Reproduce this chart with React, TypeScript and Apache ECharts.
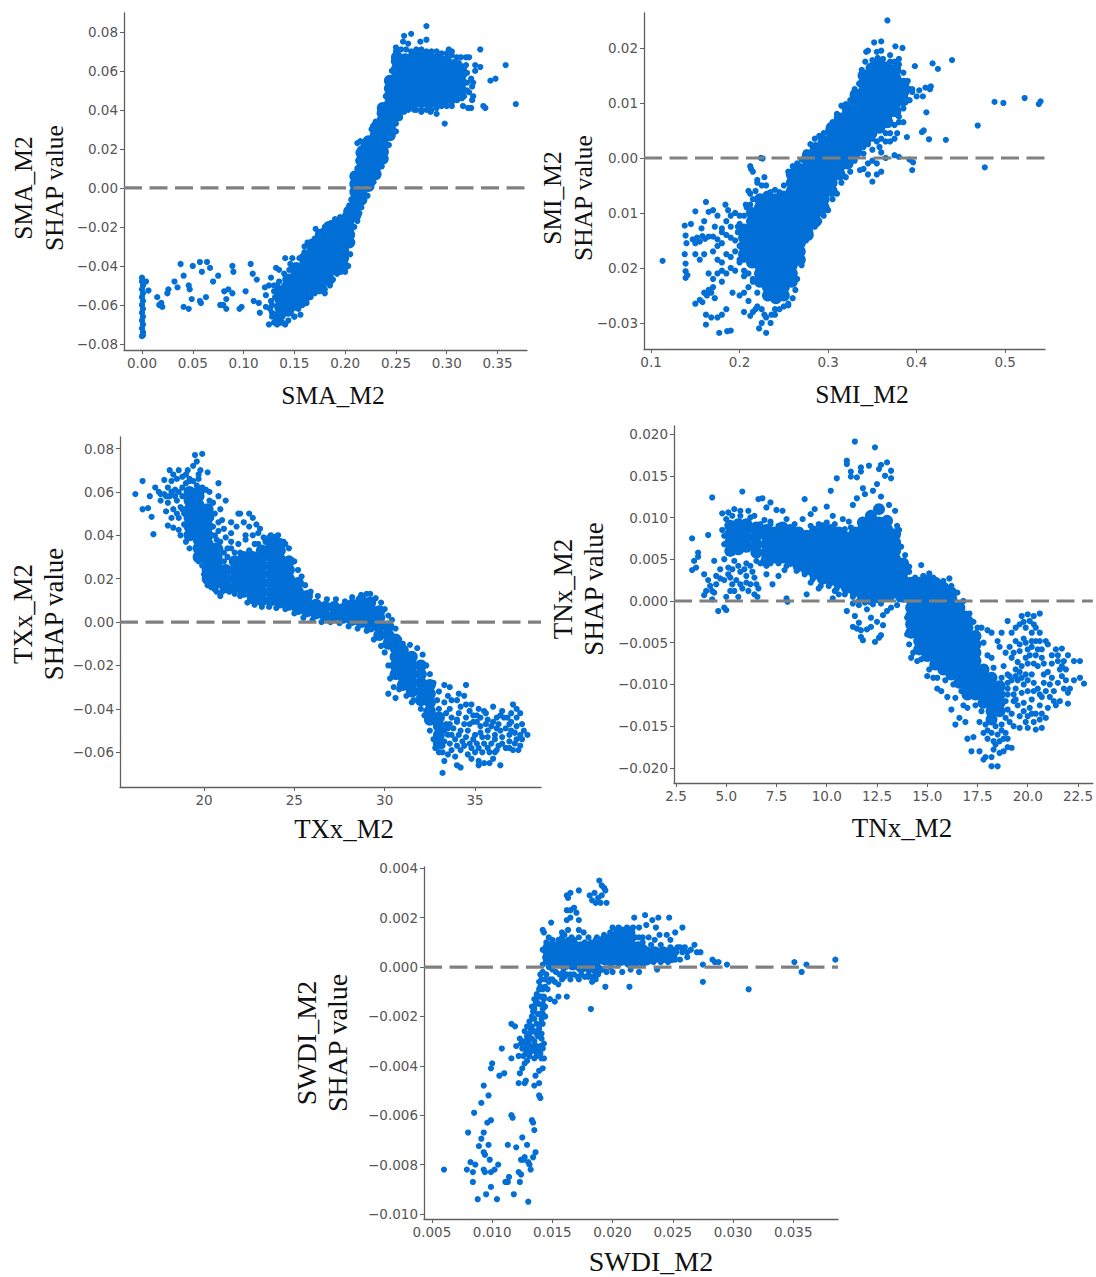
import React, { useEffect, useRef } from "react";
import * as echarts from "echarts";

type Row = [number, number[]];
type Pt = [number, number];

// ---------- SMA_M2 ----------
const smaXTicks = [0, 0.05, 0.1, 0.15, 0.2, 0.25, 0.3, 0.35];
const smaYTicks = [-0.08, -0.06, -0.04, -0.02, 0, 0.02, 0.04, 0.06, 0.08];
const smaDense: Row[] = [
  [0.136, [-0.065, -0.061, -0.057, -0.053]],
  [0.144, [-0.063, -0.059, -0.055, -0.051, -0.047]],
  [0.152, [-0.06, -0.056, -0.052, -0.048, -0.044, -0.041]],
  [0.16, [-0.056, -0.052, -0.048, -0.044, -0.04, -0.036]],
  [0.168, [-0.052, -0.048, -0.044, -0.04, -0.036, -0.032, -0.029]],
  [0.176, [-0.05, -0.046, -0.042, -0.038, -0.034, -0.03, -0.026, -0.024]],
  [0.184, [-0.047, -0.043, -0.039, -0.035, -0.031, -0.027, -0.023, -0.02]],
  [0.192, [-0.041, -0.037, -0.033, -0.029, -0.025, -0.021, -0.018]],
  [0.198, [-0.04, -0.036, -0.032, -0.028, -0.024, -0.02, -0.017]],
  [0.204, [-0.028, -0.024, -0.02, -0.016, -0.012]],
  [0.21, [-0.014, -0.01, -0.006, -0.002, 0.002, 0.006]],
  [0.216, [-0.006, -0.002, 0.002, 0.006, 0.01, 0.014, 0.018]],
  [0.223, [0.001, 0.005, 0.009, 0.013, 0.017, 0.021, 0.024]],
  [0.23, [0.007, 0.011, 0.015, 0.019, 0.023, 0.027, 0.031]],
  [0.237, [0.015, 0.019, 0.023, 0.027, 0.031, 0.035, 0.039, 0.041]],
  [0.244, [0.027, 0.031, 0.035, 0.039, 0.043, 0.047, 0.051, 0.055]],
  [0.251, [0.037, 0.041, 0.045, 0.049, 0.053, 0.057, 0.061, 0.065, 0.067]],
  [0.259, [0.042, 0.046, 0.05, 0.054, 0.058, 0.062, 0.066]],
  [0.267, [0.044, 0.048, 0.052, 0.056, 0.06, 0.064, 0.067]],
  [0.275, [0.044, 0.048, 0.052, 0.056, 0.06, 0.064, 0.067]],
  [0.283, [0.044, 0.048, 0.052, 0.056, 0.06, 0.064, 0.067]],
  [0.291, [0.044, 0.048, 0.052, 0.056, 0.06, 0.064, 0.066]],
  [0.299, [0.046, 0.05, 0.054, 0.058, 0.062, 0.065]],
  [0.307, [0.048, 0.052, 0.056, 0.06, 0.063]],
  [0.314, [0.05, 0.054, 0.058, 0.061]],
];
const smaSparse: Pt[] = [
  [0, -0.046], [0, -0.048], [0.001, -0.05], [0, -0.052], [0.001, -0.054], [0, -0.056], [0.001, -0.058], [0, -0.06], [0.001, -0.062], [0, -0.064],
  [0.001, -0.066], [0, -0.068], [0.001, -0.07], [0, -0.072], [0.001, -0.074], [0, -0.076], [0.001, -0.0755],
  [0.0064, -0.0526], [0.004, -0.048], [0.015, -0.056], [0.019, -0.059], [0.02, -0.061], [0.017, -0.06], [0.026, -0.052], [0.025, -0.054],
  [0.032, -0.048], [0.035, -0.051], [0.038, -0.039], [0.041, -0.045], [0.041, -0.061], [0.046, -0.062], [0.046, -0.05], [0.047, -0.052],
  [0.05, -0.04], [0.049, -0.057], [0.057, -0.038], [0.059, -0.043], [0.057, -0.058], [0.058, -0.059], [0.063, -0.056], [0.064, -0.038],
  [0.067, -0.041], [0.07, -0.048], [0.075, -0.045], [0.077, -0.06], [0.08, -0.06], [0.083, -0.057], [0.083, -0.062], [0.081, -0.053],
  [0.085, -0.052], [0.089, -0.054], [0.089, -0.04], [0.09, -0.043], [0.096, -0.062], [0.098, -0.061], [0.102, -0.053], [0.107, -0.039],
  [0.109, -0.044], [0.11, -0.058], [0.113, -0.047], [0.116, -0.064], [0.115, -0.059], [0.121, -0.051], [0.122, -0.055], [0.122, -0.061],
  [0.125, -0.07], [0.128, -0.066], [0.125, -0.05], [0.127, -0.046], [0.132, -0.041], [0.135, -0.042], [0.141, -0.036], [0.148, -0.036],
  [0.146, -0.039], [0.16, -0.03], [0.163, -0.028], [0.171, -0.021], [0.18, -0.02], [0.141, -0.07], [0.136, -0.069], [0.156, -0.065],
  [0.13, -0.069], [0.133, -0.07], [0.15, -0.066], [0.18, -0.054], [0.172, -0.053], [0.16, -0.059], [0.127, -0.058], [0.13, -0.053], [0.126, -0.062],
  [0.28, 0.083], [0.258, 0.078], [0.265, 0.079], [0.28, 0.076], [0.274, 0.075], [0.25, 0.072], [0.262, 0.074], [0.257, 0.075], [0.27, 0.071],
  [0.333, 0.071], [0.358, 0.063], [0.348, 0.056], [0.343, 0.055], [0.368, 0.043], [0.336, 0.042], [0.338, 0.041], [0.328, 0.063], [0.328, 0.06],
  [0.333, 0.062], [0.322, 0.067], [0.319, 0.067], [0.302, 0.071], [0.305, 0.07], [0.314, 0.067], [0.298, 0.033], [0.29, 0.038], [0.284, 0.039],
  [0.275, 0.039], [0.268, 0.04], [0.305, 0.042], [0.31, 0.045], [0.324, 0.041], [0.321, 0.041], [0.316, 0.042], [0.326, 0.047], [0.326, 0.054],
  [0.322, 0.049], [0.325, 0.052], [0.32, 0.059], [0.324, 0.056], [0.319, 0.063], [0.317, 0.047], [0.325, 0.045], [0.25, 0.029], [0.212, 0.023], [0.215, 0.024],
  [0.245, 0.028], [0.238, 0.022],
  [0.128, -0.064], [0.132, -0.068], [0.138, -0.069], [0.144, -0.068], [0.15, -0.066], [0.154, -0.062], [0.158, -0.06], [0.162, -0.059], [0.166, -0.056],
  [0.17, -0.054], [0.175, -0.053], [0.18, -0.052], [0.185, -0.05], [0.188, -0.047], [0.192, -0.044], [0.196, -0.043], [0.2, -0.043], [0.203, -0.04],
  [0.205, -0.034], [0.207, -0.028], [0.209, -0.02], [0.212, -0.017], [0.214, -0.013], [0.216, -0.01], [0.13, -0.05], [0.135, -0.048], [0.14, -0.044],
  [0.145, -0.042], [0.15, -0.04], [0.155, -0.036], [0.16, -0.033], [0.165, -0.029], [0.17, -0.026], [0.174, -0.023], [0.178, -0.022], [0.182, -0.02],
  [0.186, -0.018], [0.19, -0.016], [0.195, -0.015], [0.2, -0.014], [0.204, -0.009], [0.206, -0.006], [0.208, -0.002], [0.21, 0.004], [0.212, 0.01],
  [0.213, 0.014], [0.215, 0.02], [0.218, 0.022], [0.222, 0.024], [0.226, 0.03], [0.23, 0.034], [0.234, 0.038], [0.238, 0.04], [0.24, 0.047], [0.243, 0.055],
  [0.246, 0.06], [0.248, 0.065], [0.25, 0.07], [0.255, 0.071], [0.26, 0.071], [0.265, 0.07], [0.27, 0.07], [0.275, 0.071], [0.28, 0.07], [0.285, 0.07],
  [0.29, 0.07], [0.295, 0.069], [0.3, 0.069], [0.305, 0.068], [0.31, 0.067], [0.222, -0.004], [0.225, 0], [0.228, 0.003], [0.232, 0.007], [0.236, 0.011],
  [0.24, 0.018], [0.243, 0.022], [0.246, 0.028], [0.25, 0.033], [0.254, 0.036], [0.258, 0.039], [0.262, 0.04], [0.266, 0.041], [0.27, 0.04], [0.275, 0.04],
  [0.28, 0.04], [0.285, 0.04], [0.29, 0.041], [0.295, 0.042], [0.3, 0.042], [0.305, 0.044], [0.31, 0.045], [0.315, 0.046], [0.32, 0.05], [0.32, 0.054],
  [0.316, 0.062], [0.312, 0.064], [0.128, -0.06], [0.131, -0.056], [0.133, -0.05], [0.14, -0.05], [0.14, -0.064],
];

// ---------- SMI_M2 ----------
const smiXTicks = [0.1, 0.2, 0.3, 0.4, 0.5];
const smiYTicks = [-0.03, -0.02, -0.01, 0, 0.01, 0.02];
const smiYLabels = ["\u22120.03", "0.02", "0.01", "0.00", "0.01", "0.02"];
const smiDense: Row[] = [
  [0.205, [-0.0175, -0.016, -0.0145, -0.013]],
  [0.214, [-0.019, -0.0175, -0.016, -0.0145, -0.013, -0.0115, -0.01]],
  [0.223, [-0.0225, -0.021, -0.0195, -0.018, -0.0165, -0.015, -0.0135, -0.012, -0.0105, -0.009, -0.0075]],
  [0.232, [-0.025, -0.0235, -0.022, -0.0205, -0.019, -0.0175, -0.016, -0.0145, -0.013, -0.0115, -0.01, -0.0085, -0.007]],
  [0.241, [-0.0255, -0.024, -0.0225, -0.021, -0.0195, -0.018, -0.0165, -0.015, -0.0135, -0.012, -0.0105, -0.009, -0.0075]],
  [0.25, [-0.025, -0.0235, -0.022, -0.0205, -0.019, -0.0175, -0.016, -0.0145, -0.013, -0.0115, -0.01, -0.0085, -0.007]],
  [0.259, [-0.0225, -0.021, -0.0195, -0.018, -0.0165, -0.015, -0.0135, -0.012, -0.0105, -0.009, -0.0075, -0.006, -0.0045, -0.003]],
  [0.268, [-0.0185, -0.017, -0.0155, -0.014, -0.0125, -0.011, -0.0095, -0.008, -0.0065, -0.005, -0.0035, -0.002]],
  [0.277, [-0.014, -0.0125, -0.011, -0.0095, -0.008, -0.0065, -0.005, -0.0035, -0.002, -0.0005, 0.0005]],
  [0.286, [-0.0115, -0.01, -0.0085, -0.007, -0.0055, -0.004, -0.0025, -0.001, 0.0005, 0.0018]],
  [0.295, [-0.009, -0.0075, -0.006, -0.0045, -0.003, -0.0015, 0, 0.0015, 0.003]],
  [0.304, [-0.006, -0.0045, -0.003, -0.0015, 0, 0.0015, 0.003, 0.0045, 0.0055]],
  [0.313, [-0.003, -0.0015, 0, 0.0015, 0.003, 0.0045, 0.006, 0.0072]],
  [0.322, [-0.001, 0.0005, 0.002, 0.0035, 0.005, 0.0065, 0.008, 0.009]],
  [0.331, [0.001, 0.0025, 0.004, 0.0055, 0.007, 0.0085, 0.0105, 0.0115]],
  [0.34, [0.003, 0.0045, 0.006, 0.0075, 0.009, 0.0105, 0.012, 0.0135, 0.015]],
  [0.349, [0.0045, 0.006, 0.0075, 0.009, 0.0105, 0.012, 0.0135, 0.015, 0.0163]],
  [0.358, [0.0055, 0.007, 0.0085, 0.01, 0.0115, 0.013, 0.0145, 0.016, 0.0172]],
  [0.367, [0.0065, 0.008, 0.0095, 0.011, 0.0125, 0.014, 0.0155, 0.0165]],
  [0.376, [0.0085, 0.01, 0.0115, 0.013, 0.0145, 0.016]],
  [0.385, [0.0105, 0.012, 0.0135]],
];
const smiSparse: Pt[] = [
  [0.113, -0.0187], [0.138, -0.0123], [0.138, -0.0175], [0.139, -0.0141], [0.14, -0.0155], [0.139, -0.0192], [0.139, -0.0206], [0.139, -0.0218],
  [0.141, -0.0213], [0.15, -0.0097], [0.145, -0.012], [0.147, -0.0148], [0.15, -0.0155], [0.152, -0.0145], [0.155, -0.0152], [0.158, -0.0142],
  [0.161, -0.0147], [0.165, -0.0143], [0.17, -0.0143], [0.175, -0.0148], [0.18, -0.0135], [0.162, -0.008], [0.165, -0.0098], [0.17, -0.0095],
  [0.175, -0.0105], [0.16, -0.0115], [0.157, -0.0128], [0.172, -0.0125], [0.184, -0.0085], [0.187, -0.0095], [0.185, -0.0115], [0.19, -0.0105],
  [0.195, -0.01], [0.2, -0.0105], [0.18, -0.0128], [0.19, -0.0125], [0.198, -0.0125], [0.15, -0.0175], [0.155, -0.0185], [0.16, -0.0175],
  [0.17, -0.017], [0.175, -0.0185], [0.18, -0.019], [0.185, -0.0175], [0.19, -0.018], [0.195, -0.017], [0.2, -0.019], [0.205, -0.0185],
  [0.175, -0.021], [0.18, -0.0205], [0.185, -0.021], [0.19, -0.02], [0.195, -0.0205], [0.165, -0.021], [0.17, -0.022], [0.18, -0.0225],
  [0.165, -0.024], [0.17, -0.0235], [0.15, -0.0265], [0.155, -0.0258], [0.158, -0.0262], [0.16, -0.0245], [0.163, -0.025], [0.168, -0.0245],
  [0.172, -0.0255], [0.162, -0.0285], [0.162, -0.0303], [0.168, -0.029], [0.175, -0.029], [0.18, -0.0285], [0.185, -0.0275], [0.192, -0.0245],
  [0.2, -0.025], [0.205, -0.0245], [0.21, -0.026], [0.205, -0.028], [0.215, -0.028], [0.22, -0.027], [0.225, -0.03], [0.23, -0.0318],
  [0.222, -0.031], [0.177, -0.0318], [0.186, -0.0315], [0.19, -0.0314], [0.212, -0.0287], [0.218, -0.0275], [0.228, -0.0285], [0.236, -0.0285],
  [0.24, -0.0275], [0.255, -0.0268], [0.21, -0.0235], [0.215, -0.022], [0.205, -0.0215], [0.212, -0.0065], [0.213, -0.002], [0.212, -0.0015],
  [0.215, -0.0025], [0.224, 0], [0.226, -0.0001], [0.22, -0.0045], [0.228, -0.0035], [0.225, -0.005], [0.21, -0.006], [0.207, -0.0085],
  [0.367, 0.025], [0.36, 0.0212], [0.352, 0.021], [0.345, 0.0195], [0.343, 0.0193], [0.355, 0.0193], [0.36, 0.0195], [0.376, 0.0203], [0.384, 0.02],
  [0.37, 0.0187], [0.38, 0.018], [0.398, 0.0167], [0.418, 0.0172], [0.424, 0.0162], [0.44, 0.0178], [0.403, 0.0123], [0.41, 0.0128], [0.415, 0.0125],
  [0.416, 0.013], [0.4, 0.0112], [0.407, 0.0112], [0.392, 0.0125], [0.395, 0.012], [0.411, 0.0083], [0.408, 0.005], [0.406, 0.0047], [0.414, 0.0034],
  [0.389, 0.0038], [0.433, 0.0033], [0.469, 0.0059], [0.488, 0.0102], [0.498, 0.01], [0.522, 0.0109], [0.538, 0.0098], [0.54, 0.0103], [0.477, -0.0017],
  [0.395, -0.0022], [0.392, -0.0003], [0.396, -0.0008], [0.38, 0.0002], [0.375, 0.0005], [0.38, 0.0065], [0.385, 0.0065], [0.378, 0.0045], [0.37, 0.003],
  [0.375, 0.0035], [0.35, -0.0043], [0.345, -0.003], [0.355, -0.003], [0.36, -0.0025], [0.34, -0.002], [0.336, -0.0022], [0.345, -0.001], [0.35, -0.0005],
  [0.355, -0.001], [0.36, 0.001], [0.365, 0], [0.34, 0.0008], [0.35, 0.0015], [0.358, 0.002], [0.345, 0.0025], [0.365, 0.003], [0.33, 0], [0.335, 0.001],
  [0.2, -0.012], [0.198, -0.0135], [0.2, -0.016], [0.205, -0.0105], [0.208, -0.009], [0.212, -0.0085], [0.215, -0.0075], [0.218, -0.006], [0.22, -0.004],
  [0.23, -0.005], [0.235, -0.0062], [0.24, -0.0058], [0.245, -0.0062], [0.25, -0.005], [0.255, -0.0025], [0.26, -0.0015], [0.265, -0.001], [0.27, -0.0003],
  [0.275, 0.001], [0.28, 0.0025], [0.285, 0.0035], [0.29, 0.004], [0.295, 0.0045], [0.3, 0.005], [0.305, 0.0065], [0.31, 0.008], [0.315, 0.0095],
  [0.32, 0.0098], [0.325, 0.0105], [0.33, 0.0125], [0.335, 0.0135], [0.338, 0.016], [0.342, 0.0175], [0.35, 0.0178], [0.356, 0.0182], [0.362, 0.018],
  [0.37, 0.0175], [0.375, 0.0175], [0.38, 0.017], [0.385, 0.0155], [0.39, 0.014], [0.395, 0.0125], [0.392, 0.0105], [0.385, 0.009], [0.38, 0.0075],
  [0.375, 0.006], [0.37, 0.0045], [0.365, 0.0045], [0.36, 0.0035], [0.355, 0.003], [0.35, 0.0035], [0.345, 0.003], [0.34, 0.002], [0.335, 0.0015],
  [0.33, -0.0005], [0.325, -0.0025], [0.32, -0.0035], [0.315, -0.0045], [0.31, -0.0065], [0.305, -0.0075], [0.3, -0.0095], [0.295, -0.0105], [0.29, -0.0115],
  [0.285, -0.0125], [0.28, -0.0135], [0.275, -0.015], [0.27, -0.0195], [0.265, -0.022], [0.263, -0.024], [0.26, -0.0255], [0.255, -0.0265], [0.25, -0.027],
  [0.245, -0.0275], [0.24, -0.0285], [0.235, -0.03], [0.23, -0.029], [0.225, -0.0275], [0.22, -0.0245], [0.215, -0.0225], [0.21, -0.021], [0.205, -0.0205],
  [0.2, -0.0185], [0.195, -0.015], [0.19, -0.0145], [0.185, -0.014], [0.18, -0.0155], [0.175, -0.016],
];

// ---------- TXx_M2 ----------
const txxXTicks = [20, 25, 30, 35];
const txxYTicks = [-0.06, -0.04, -0.02, 0, 0.02, 0.04, 0.06, 0.08];
const txxDense: Row[] = [
  [19.2, [0.04, 0.044, 0.048, 0.052, 0.056, 0.06]],
  [19.7, [0.03, 0.034, 0.038, 0.042, 0.046, 0.05, 0.054, 0.058, 0.06]],
  [20.2, [0.02, 0.024, 0.028, 0.032, 0.036, 0.04, 0.044, 0.048, 0.052]],
  [20.7, [0.018, 0.022, 0.026, 0.03, 0.034]],
  [21.2, [0.016, 0.02, 0.024]],
  [21.7, [0.016, 0.02, 0.024, 0.028]],
  [22.2, [0.014, 0.018, 0.022, 0.026, 0.03]],
  [22.7, [0.011, 0.015, 0.019, 0.023, 0.027, 0.03]],
  [23.2, [0.01, 0.014, 0.018, 0.022, 0.026, 0.03, 0.033]],
  [23.7, [0.01, 0.014, 0.018, 0.022, 0.026, 0.03, 0.034, 0.037]],
  [24.2, [0.009, 0.013, 0.017, 0.021, 0.025, 0.029, 0.033, 0.036]],
  [24.7, [0.008, 0.012, 0.016, 0.02, 0.024, 0.028]],
  [25.2, [0.006, 0.01, 0.014, 0.018]],
  [25.7, [0.005, 0.009, 0.012]],
  [26.2, [0.004, 0.008]],
  [26.7, [0.003, 0.007]],
  [27.2, [0.003, 0.007]],
  [27.7, [0.002, 0.006]],
  [28.2, [0.001, 0.005, 0.008]],
  [28.7, [0, 0.004, 0.008, 0.01]],
  [29.2, [-0.002, 0.002, 0.006, 0.009]],
  [29.7, [-0.006, -0.002, 0.002, 0.005]],
  [30.2, [-0.01, -0.006, -0.002]],
  [30.6, [-0.024, -0.02, -0.016, -0.012, -0.008]],
  [31, [-0.029, -0.025, -0.021, -0.017, -0.013]],
  [31.5, [-0.032, -0.028, -0.024, -0.02, -0.016]],
  [32, [-0.036, -0.032, -0.028, -0.024, -0.02]],
  [32.5, [-0.045, -0.041, -0.037, -0.033, -0.029]],
  [33, [-0.056, -0.052, -0.048, -0.044]],
];
const txxSparse: Pt[] = [
  [16.2, 0.059], [16.6, 0.052], [16.9, 0.0525], [16.6, 0.065], [17, 0.058], [17.3, 0.062], [17.6, 0.059], [17.2, 0.0405], [17.1, 0.0485],
  [17.8, 0.0655], [18.1, 0.07], [18.2, 0.065], [18.4, 0.061], [18, 0.055], [18.3, 0.052], [18, 0.0445], [18.3, 0.0435], [18.6, 0.0425],
  [17.8, 0.059], [18.1, 0.058], [18.5, 0.056], [18.8, 0.058], [18.8, 0.067], [19.1, 0.07], [19.4, 0.072], [19.5, 0.077], [19.9, 0.0775],
  [19.6, 0.074], [19.8, 0.07], [19.7, 0.068], [20.2, 0.069], [19.2, 0.065], [18.8, 0.052], [18.6, 0.048], [18.9, 0.045], [18.7, 0.04],
  [19, 0.037], [19.2, 0.034], [19.7, 0.066], [20.3, 0.06], [20.8, 0.064], [20.8, 0.058], [21.2, 0.056], [20.9, 0.052], [21, 0.047],
  [20.8, 0.042], [20.6, 0.04], [20.9, 0.037], [21.5, 0.046], [21.9, 0.05], [22, 0.05], [22.5, 0.05], [22.7, 0.048], [21.8, 0.044],
  [22.2, 0.046], [22.5, 0.044], [22.9, 0.045], [23.1, 0.043], [21.5, 0.041], [22.3, 0.04], [22.7, 0.04], [23, 0.041], [21.5, 0.037],
  [21.9, 0.036], [22.3, 0.038], [21.3, 0.034], [21.1, 0.032], [21.3, 0.03], [21.1, 0.028], [20.9, 0.012], [21.4, 0.014], [21.7, 0.013], [20.4, 0.016],
  [23.7, 0.04], [24.1, 0.04], [23.4, 0.037], [24.5, 0.036], [20.2, 0.017], [20.7, 0.014],
  [33.3, -0.029], [33.6, -0.03], [34.5, -0.029], [34.1, -0.033], [34.4, -0.034], [33, -0.032], [32.9, -0.036], [33.3, -0.037], [33.6, -0.04],
  [34, -0.036], [34.5, -0.038], [34.8, -0.038], [35.2, -0.04], [35.5, -0.041], [36, -0.039], [36.4, -0.043], [36.8, -0.044], [37.1, -0.038],
  [37.3, -0.04], [37.5, -0.042], [37.6, -0.047], [37.7, -0.05], [37.9, -0.052], [37.6, -0.054], [37.5, -0.057], [37.2, -0.056], [36.9, -0.055],
  [36.5, -0.053], [36.1, -0.052], [35.7, -0.05], [35.3, -0.048], [34.9, -0.046], [34.5, -0.044], [34.1, -0.042], [33.7, -0.044], [33.4, -0.047],
  [33.8, -0.049], [34.2, -0.05], [34.6, -0.05], [35, -0.052], [35.4, -0.053], [35.9, -0.048], [36.3, -0.047], [36.7, -0.049], [37, -0.05],
  [37.3, -0.048], [37.5, -0.052], [33.5, -0.052], [33.9, -0.054], [34.3, -0.055], [34.7, -0.056], [35.1, -0.056], [35.5, -0.056], [35.9, -0.056],
  [36.3, -0.057], [36.7, -0.058], [37.1, -0.059], [37.4, -0.059], [33.2, -0.06], [33.7, -0.059], [34.2, -0.059], [34.6, -0.061], [35, -0.06],
  [35.4, -0.06], [35.8, -0.06], [36.1, -0.06], [33.3, -0.064], [33.9, -0.062], [34, -0.066], [34.2, -0.067], [34.8, -0.063], [35.2, -0.064],
  [35.2, -0.066], [35.5, -0.065], [35.8, -0.065], [36, -0.063], [36.4, -0.066], [33.2, -0.0695], [33, -0.06], [32.8, -0.058], [32.9, -0.055],
  [33.2, -0.057], [33.5, -0.049], [34, -0.046], [34.4, -0.047], [34.9, -0.043], [35.3, -0.044], [35.7, -0.045], [36.2, -0.049], [36.6, -0.044],
  [37, -0.046], [36.9, -0.052], [33.5, -0.034], [30.2, -0.033], [30.6, -0.035], [31.2, -0.034], [31.5, -0.037], [32, -0.04], [32.2, -0.043],
  [18.2, 0.048], [18.4, 0.058], [18.6, 0.06], [18.8, 0.062], [19, 0.064], [19.2, 0.066], [19.4, 0.065], [19.6, 0.063], [19.9, 0.062], [20.1, 0.061],
  [20.3, 0.056], [20.5, 0.055], [18.9, 0.05], [18.7, 0.053], [18.5, 0.05], [18.2, 0.06], [18, 0.062], [17.9, 0.058], [17.5, 0.06], [17.6, 0.056],
  [17.9, 0.051], [18.3, 0.068], [18.5, 0.066], [18.6, 0.07], [19, 0.068], [20.4, 0.048], [20.6, 0.05], [20.8, 0.046], [21.1, 0.043], [20.5, 0.044],
  [20.7, 0.038], [21.2, 0.039], [21.5, 0.034], [21.7, 0.032], [20.9, 0.034], [20.4, 0.03], [19.9, 0.026], [19.7, 0.028], [22, 0.032], [22.5, 0.033],
  [22.8, 0.036], [23, 0.036], [23.3, 0.039], [23.6, 0.039], [24, 0.0395], [24.4, 0.037], [24.7, 0.034], [25, 0.028], [25.2, 0.024], [25.4, 0.021],
  [25.6, 0.017], [25.9, 0.014], [26.3, 0.012], [26.8, 0.0105], [27.3, 0.0105], [27.8, 0.0095], [28.2, 0.0115], [28.7, 0.0125], [29, 0.013], [29.2, 0.013],
  [29.5, 0.011], [29.8, 0.009], [30, 0.006], [30.2, 0.003], [30.4, 0.001], [30.6, -0.003], [30.8, -0.008], [31, -0.01], [31.4, -0.0105], [31.8, -0.012],
  [32.1, -0.015], [32.3, -0.02], [32.5, -0.024], [32.7, -0.028], [33, -0.04], [20, 0.022], [20.2, 0.018], [20.6, 0.015], [21, 0.014], [21.5, 0.015],
  [22, 0.012], [22.4, 0.009], [22.8, 0.008], [23.2, 0.007], [23.6, 0.007], [24, 0.0065], [24.5, 0.006], [25, 0.004], [25.5, 0.002], [26, 0.001],
  [26.5, 0], [27, 0], [27.5, -0.0005], [28, -0.002], [28.5, -0.003], [29, -0.004], [29.4, -0.008], [29.8, -0.011], [30, -0.014], [30.2, -0.02],
  [30.3, -0.026], [30.5, -0.03], [30.8, -0.031], [31.2, -0.03], [31.6, -0.036], [32.3, -0.041], [32.5, -0.05], [32.7, -0.054],
  [33.4, -0.042], [33.7, -0.036], [34.2, -0.039], [34.7, -0.041], [35.1, -0.043], [35.6, -0.042], [36.2, -0.044], [36.5, -0.041], [37, -0.042],
  [37.3, -0.044], [33.6, -0.047], [34, -0.045], [34.7, -0.047], [35.1, -0.046], [35.6, -0.047], [36, -0.046], [36.4, -0.05], [36.9, -0.047], [37.2, -0.051],
  [33.3, -0.05], [33.7, -0.052], [34.1, -0.052], [34.5, -0.053], [34.9, -0.054], [35.3, -0.051], [35.7, -0.053], [36.1, -0.054], [36.5, -0.056], [36.9, -0.058],
  [37.3, -0.054], [33.3, -0.055], [33.6, -0.056], [34, -0.057], [34.4, -0.057], [34.8, -0.058], [35.2, -0.058], [35.7, -0.058], [36.2, -0.059], [33.5, -0.061],
];

// ---------- TNx_M2 ----------
const tnxXTicks = [2.5, 5, 7.5, 10, 12.5, 15, 17.5, 20, 22.5];
const tnxYTicks = [-0.02, -0.015, -0.01, -0.005, 0, 0.005, 0.01, 0.015, 0.02];
const tnxDense: Row[] = [
  [5.2, [0.006, 0.007, 0.008, 0.009]],
  [5.6, [0.0062, 0.0072, 0.0082, 0.0092]],
  [6, [0.0065, 0.0075, 0.0085, 0.0092]],
  [6.5, [0.0058, 0.0068, 0.0078, 0.0088]],
  [7, [0.0048, 0.0058, 0.0068, 0.0078, 0.0085]],
  [7.4, [0.0052, 0.0062, 0.0072, 0.0082]],
  [7.8, [0.0052, 0.0062, 0.0072, 0.0082, 0.0088]],
  [8.2, [0.0048, 0.0058, 0.0068, 0.0078, 0.0085]],
  [8.6, [0.0042, 0.0052, 0.0062, 0.0072, 0.0082]],
  [9, [0.0038, 0.0048, 0.0058, 0.0068, 0.0078]],
  [9.4, [0.0033, 0.0043, 0.0053, 0.0063, 0.0073, 0.0083]],
  [9.8, [0.0027, 0.0037, 0.0047, 0.0057, 0.0067, 0.0077, 0.0087]],
  [10.2, [0.0025, 0.0035, 0.0045, 0.0055, 0.0065, 0.0075, 0.0085]],
  [10.6, [0.0022, 0.0032, 0.0042, 0.0052, 0.0062, 0.0072, 0.0082]],
  [11, [0.0016, 0.0026, 0.0036, 0.0046, 0.0056, 0.0066, 0.0076]],
  [11.4, [0.0012, 0.0022, 0.0032, 0.0042, 0.0052, 0.0062, 0.0072, 0.0082]],
  [11.8, [0.0006, 0.0016, 0.0026, 0.0036, 0.0046, 0.0056, 0.0066, 0.0076, 0.0086, 0.0094]],
  [12.2, [0.0002, 0.0012, 0.0022, 0.0032, 0.0042, 0.0052, 0.0062, 0.0072, 0.0082, 0.0092, 0.0102]],
  [12.6, [0.0004, 0.0014, 0.0024, 0.0034, 0.0044, 0.0054, 0.0064, 0.0074, 0.0084, 0.0094, 0.011]],
  [13, [0.0006, 0.0016, 0.0026, 0.0036, 0.0046, 0.0056, 0.0066, 0.0076, 0.0086, 0.0096]],
  [13.4, [0.001, 0.002, 0.003, 0.004, 0.005, 0.006, 0.007, 0.008]],
  [13.8, [0.0005, 0.0015, 0.0025, 0.0035, 0.0045]],
  [14.2, [-0.0038, -0.0028, -0.0018, -0.0008, 0.0002, 0.0012, 0.0022]],
  [14.6, [-0.0058, -0.0048, -0.0038, -0.0028, -0.0018, -0.0008, 0.0002, 0.0012, 0.0022]],
  [15, [-0.0066, -0.0056, -0.0046, -0.0036, -0.0026, -0.0016, -0.0006, 0.0004, 0.0014, 0.0024]],
  [15.4, [-0.0076, -0.0066, -0.0056, -0.0046, -0.0036, -0.0026, -0.0016, -0.0006, 0.0004, 0.0014, 0.0022]],
  [15.8, [-0.0082, -0.0072, -0.0062, -0.0052, -0.0042, -0.0032, -0.0022, -0.0012, -0.0002, 0.0008, 0.0016]],
  [16.2, [-0.0088, -0.0078, -0.0068, -0.0058, -0.0048, -0.0038, -0.0028, -0.0018, -0.0008, 0.0002, 0.001]],
  [16.6, [-0.0098, -0.0088, -0.0078, -0.0068, -0.0058, -0.0048, -0.0038, -0.0028, -0.0018, -0.0008]],
  [17, [-0.0112, -0.0102, -0.0092, -0.0082, -0.0072, -0.0062, -0.0052, -0.0042, -0.0032, -0.0024]],
  [17.4, [-0.0112, -0.0102, -0.0092, -0.0082, -0.0072, -0.0062, -0.0052, -0.0042]],
  [17.8, [-0.0122, -0.0112, -0.0102, -0.0092, -0.0082]],
  [18.2, [-0.0142, -0.0132, -0.0122, -0.0112, -0.0102, -0.0092]],
  [18.6, [-0.0132, -0.0122, -0.0112, -0.0102]],
];
const tnxSparse: Pt[] = [
  [3.3, 0.0075], [3.3, 0.0037], [3.4, 0.0048], [3.5, 0.004], [3.6, 0.0058], [3.6, 0.0053], [4.1, 0.0079], [4.3, 0.0124], [3.9, 0.0032], [4.1, 0.0025],
  [4.2, 0.0018], [4, 0.0012], [4.4, 0.0048], [3.9, 0.0007], [4.3, 0.0012], [4.5, 0.003], [4.7, 0.0038], [4.5, 0.002], [4.4, 0.001], [4.3, 0.0002],
  [4.7, 0.0027], [4.9, 0.0025], [4.9, 0.005], [4.6, -0.0012], [4.9, -0.0008], [5, -0.0011], [5, 0.0005], [5.2, 0.0012], [5.3, 0.002], [5.1, 0.004],
  [5.4, 0.0048], [5.7, 0.0035], [5.5, 0.0025], [5.8, 0.0015], [5.6, 0.0005], [6, 0.003], [6, 0.0045], [6.2, 0.002], [6.4, 0.0008], [6.3, 0.0035],
  [6.6, 0.0015], [6.55, 0.0005], [6.7, 0.0045], [6.5, 0.0048], [7, 0.0032], [7.3, 0.002], [7.6, 0.003], [7.9, 0.0037], [8, 0.0003], [8.05, -0.0001],
  [7, 0.0042], [6.9, 0.0052], [5.8, 0.0131], [6.6, 0.0122], [6.8, 0.0123], [7, 0.0112], [7.2, 0.0118], [7.5, 0.0109], [7.8, 0.0108], [8.9, 0.0122],
  [4.8, 0.0105], [5.1, 0.0106], [5.4, 0.011], [5.7, 0.0108], [6.1, 0.0108], [6.4, 0.0102], [6.9, 0.0097], [7.2, 0.0095], [8, 0.0098], [8.8, 0.0098],
  [9.4, 0.011], [9.2, 0.0104], [10, 0.0113], [10.2, 0.0132], [10.5, 0.0147], [10.3, 0.0102], [10.8, 0.0098], [11, 0.0168], [11, 0.0164], [11.2, 0.0155],
  [11.2, 0.0149], [11.4, 0.0191], [11.5, 0.0148], [11.7, 0.0155], [11.7, 0.016], [12.1, 0.0162], [12.4, 0.0184], [12.6, 0.0158], [12.7, 0.0163], [13, 0.0166],
  [13.2, 0.0156], [13.2, 0.0147], [12.9, 0.015], [12.5, 0.014], [11.8, 0.0135], [11.5, 0.0123], [11.3, 0.0115], [11.9, 0.0128], [12.3, 0.0132], [12.7, 0.0125],
  [13.1, 0.0115], [13.4, 0.0108], [13.6, 0.0085], [11.1, 0.0095], [9, 0.0008], [9.6, 0.0015], [9.2, 0.0022], [10.3, 0.0003], [10.6, 0.0008], [10.5, 0.0015],
  [11, -0.0012], [11.4, -0.0018], [11.6, -0.0026], [11.3, -0.0031], [11.5, -0.0033], [11.7, -0.0035], [11.8, -0.0047], [11.7, -0.0043], [12, -0.0034], [12.2, -0.0031],
  [12.4, -0.0049], [12.6, -0.0044], [12.7, -0.0041], [12.8, -0.0029], [12.5, -0.0025], [12.2, -0.002], [12.8, -0.0017], [13, -0.0012], [12, -0.001], [11.6, -0.0005],
  [11.3, -0.0003], [13.2, -0.0008], [13.5, -0.0005],
  [14.2, -0.0068], [14.5, -0.0072], [15, -0.009], [15.3, -0.0092], [15.5, -0.0105], [15.7, -0.0108], [16, -0.0115], [16.4, -0.0116], [16.2, -0.013], [16.4, -0.0148],
  [16.6, -0.014], [16.8, -0.0125], [16.9, -0.0145], [17, -0.0165], [17.3, -0.0163], [17.2, -0.018], [17.6, -0.018], [17.8, -0.019], [17.9, -0.0187], [18.2, -0.0198],
  [18.5, -0.0198], [18.2, -0.0187], [18.3, -0.0178], [18.6, -0.0182], [18.8, -0.018], [19, -0.0175], [19.2, -0.0176], [18.3, -0.0168], [18.5, -0.016], [18, -0.0165],
  [17.8, -0.0158], [18.9, -0.0158], [19.3, -0.015], [19.6, -0.0152], [20, -0.0152], [20.4, -0.0154], [20.7, -0.0152], [18.9, -0.014], [19.2, -0.0135], [19.6, -0.0138],
  [20, -0.0138], [20.4, -0.0135], [20.9, -0.014], [21, -0.0128], [21.4, -0.0125], [21.6, -0.012], [22, -0.0123], [22, -0.011], [21.8, -0.0105], [22.1, -0.0105],
  [21.3, -0.0108], [20.7, -0.0115], [20.2, -0.0118], [19.8, -0.0122], [19.3, -0.012], [19, -0.0112], [19.4, -0.0105], [19.8, -0.01], [20.3, -0.0098], [20.8, -0.0098],
  [21.2, -0.0092], [21.7, -0.009], [22.3, -0.0095], [22.6, -0.0092], [22.8, -0.0099], [22.6, -0.0072], [22.3, -0.0072], [22, -0.0065], [21.7, -0.0057], [21.4, -0.0058],
  [21.2, -0.0065], [21.5, -0.0072], [21.8, -0.0072], [21.2, -0.0075], [20.9, -0.0048], [20.7, -0.0058], [20.4, -0.0065], [20, -0.0075], [19.6, -0.0085], [19.1, -0.009],
  [18.8, -0.0078], [19.2, -0.0068], [19.6, -0.006], [20, -0.0058], [20.4, -0.0048], [19.1, -0.0055], [19.4, -0.0048], [19.8, -0.0045], [20.2, -0.0038], [20.6, -0.0038],
  [19.2, -0.0038], [19.6, -0.0028], [19.9, -0.0032], [20.3, -0.0028], [19, -0.0024], [19.7, -0.0018], [20, -0.0016], [20.3, -0.0018], [20.6, -0.0015], [18.5, -0.0048],
  [18.2, -0.0068], [18.6, -0.0055], [18.2, -0.0038], [18, -0.0035], [18.7, -0.0038], [20.5, -0.0078], [20.2, -0.0088], [19.5, -0.0095], [20, -0.0108], [20.5, -0.0105],
  [21.7, -0.0078], [20.8, -0.0088], [17.7, -0.0032], [17.3, -0.0025], [16.9, -0.0015], [14.7, 0.0043], [15.1, 0.0033], [16.1, 0.0027], [13.8, 0.0038], [14.1, 0.0041],
  [4.9, 0.0068], [4.8, 0.0085], [5, 0.0098], [4.9, 0.0078], [5.3, 0.0102], [5.7, 0.0102], [6.2, 0.01], [6.7, 0.0092], [7.2, 0.0092], [7.6, 0.009], [8.4, 0.0092],
  [5.1, 0.0032], [5.3, 0.0038], [5.6, 0.0042], [5.9, 0.0038], [6.2, 0.0042], [6.4, 0.0028], [5.4, 0.0012], [5.7, 0.002], [6.1, 0.0012], [6, 0.0022], [5.2, 0.0028], [6.5, 0.002],
  [7.2, 0.0045], [7.6, 0.0045], [8, 0.0042], [8.5, 0.0036], [8.9, 0.0032], [9.3, 0.0026], [9.7, 0.0018], [10.1, 0.0018], [10.4, 0.0012], [10.9, 0.0008],
  [11.3, 0.0005], [11.6, 0], [11.9, -0.0002], [12.3, -0.0004], [12.7, -0.0003], [13.2, 0.0003], [13.6, 0.0002], [9.2, 0.009], [9.6, 0.0092], [10, 0.0094],
  [10.4, 0.0092], [10.9, 0.0086], [11.2, 0.0088], [13.5, 0.009], [13.7, 0.0065], [13.9, 0.0055], [14.1, 0.0035], [14.4, 0.0028], [14.8, 0.003], [15.3, 0.0028],
  [15.8, 0.0024], [16.2, 0.0018], [16.5, 0.001], [16.8, 0], [17.1, -0.0015], [17.5, -0.0032], [17.8, -0.005], [18, -0.0065], [18.3, -0.008], [18.7, -0.0092],
  [14, -0.002], [14, -0.004], [14.1, -0.0052], [14.3, -0.0062], [14.7, -0.007], [15.1, -0.0082], [15.5, -0.0092], [15.9, -0.0095], [16.3, -0.01], [16.7, -0.0108],
  [17, -0.0128], [17.4, -0.0125], [17.7, -0.0132], [18, -0.0155], [18.4, -0.015], [18.7, -0.0148], [19, -0.013], [19, -0.0098], [19.4, -0.009], [19.9, -0.0088],
  [20.3, -0.0075], [20.7, -0.0068], [21, -0.0052], [19.5, -0.0073], [20.1, -0.0065], [20.6, -0.0048], [18.9, -0.0062], [19.3, -0.0112], [19.7, -0.011], [20.1, -0.0128],
  [20.6, -0.0125], [21.1, -0.0115], [19.1, -0.0145], [19.5, -0.0125], [19.9, -0.0145], [20.3, -0.0145], [20.7, -0.0135], [21.5, -0.0098], [21.9, -0.0095], [21.5, -0.0065],
  [19, -0.0105], [19.2, -0.0095], [19.4, -0.0082], [19.7, -0.0078], [19.9, -0.0068], [20.2, -0.0055], [20.5, -0.0058], [20.8, -0.0075], [21, -0.0085], [21.1, -0.01],
  [20.9, -0.0108], [20.6, -0.0112], [20.3, -0.0108], [20, -0.0095], [19.7, -0.0092], [19.4, -0.0118], [19.8, -0.0132], [20.2, -0.0135], [20.6, -0.0142], [21.3, -0.012],
  [18.9, -0.012], [19, -0.0088], [19.3, -0.0062], [19.6, -0.0052], [19.9, -0.005], [20.2, -0.0048], [19.4, -0.0032], [19.8, -0.0025], [20.1, -0.0024], [20.4, -0.0032],
  [18.6, -0.0168], [18.8, -0.0165], [19, -0.0165], [18.7, -0.0155], [18.4, -0.0172], [17.9, -0.0148], [17.6, -0.0145], [18.2, -0.0158], [21.6, -0.0082], [21.9, -0.0082],
];

// ---------- SWDI_M2 ----------
const swdiXTicks = [0.005, 0.01, 0.015, 0.02, 0.025, 0.03, 0.035];
const swdiYTicks = [-0.01, -0.008, -0.006, -0.004, -0.002, 0, 0.002, 0.004];
const swdiDense: Row[] = [
  [0.0147, [0.0003, 0.0006, 0.0008]],
  [0.0153, [0.0002, 0.0005, 0.0008]],
  [0.016, [0.0001, 0.0004, 0.0007, 0.0009]],
  [0.0167, [0.0001, 0.0004, 0.0007, 0.0009]],
  [0.0174, [0, 0.0003, 0.0006, 0.0008]],
  [0.0181, [0, 0.0003, 0.0006, 0.0008]],
  [0.0187, [-0.0001, 0.0003, 0.0006, 0.0009]],
  [0.0194, [0.0003, 0.0006, 0.0009, 0.0011]],
  [0.0201, [0.0003, 0.0006, 0.0009, 0.0012]],
  [0.0208, [0.0003, 0.0006, 0.0009, 0.0012, 0.0014]],
  [0.0214, [0.0002, 0.0005, 0.0008, 0.0011, 0.0014]],
  [0.0221, [0.0003, 0.0006, 0.0008]],
  [0.0228, [0.0003, 0.0006]],
  [0.0235, [0.0004, 0.0006]],
  [0.0242, [0.0004, 0.0006]],
  [0.0249, [0.0004, 0.0006]],
];
const swdiSparse: Pt[] = [
  [0.006, -0.0082], [0.0079, -0.0082], [0.008, -0.0067], [0.0082, -0.0079], [0.0084, -0.0083], [0.0084, -0.0087], [0.0085, -0.0059], [0.0086, -0.008],
  [0.0088, -0.0094], [0.0089, -0.00725], [0.0091, -0.00695], [0.0091, -0.0055], [0.0093, -0.0048], [0.0093, -0.0067], [0.0093, -0.0075], [0.0093, -0.0082],
  [0.0094, -0.0083], [0.0094, -0.0076], [0.0095, -0.0092], [0.0096, -0.0063], [0.0097, -0.0052], [0.0097, -0.0072], [0.0098, -0.0078], [0.0099, -0.0062],
  [0.0099, -0.0083], [0.0099, -0.0089], [0.0099, -0.0041], [0.01, -0.0039], [0.0102, -0.0082], [0.0104, -0.0094], [0.0105, -0.008], [0.0106, -0.0044],
  [0.0108, -0.0033], [0.011, -0.0043], [0.0111, -0.0087], [0.0113, -0.0087], [0.0113, -0.0072], [0.0114, -0.0085], [0.0116, -0.006], [0.0117, -0.0061],
  [0.0116, -0.0037], [0.0118, -0.0092], [0.0116, -0.0023], [0.0119, -0.0024], [0.012, -0.0032], [0.012, -0.0073], [0.0122, -0.0036], [0.0123, -0.0029],
  [0.0122, -0.0083], [0.0123, -0.0087], [0.0124, -0.0078], [0.0124, -0.0084], [0.0125, -0.0069], [0.0126, -0.0078], [0.0127, -0.0077], [0.0127, -0.0047],
  [0.0128, -0.0033], [0.0128, -0.0046], [0.0129, -0.0072], [0.013, -0.0095], [0.013, -0.0079], [0.0131, -0.008], [0.0132, -0.0082], [0.0133, -0.0062],
  [0.0134, -0.0077], [0.0134, -0.0063], [0.0135, -0.0066], [0.0136, -0.0075], [0.0135, -0.0048], [0.0136, -0.0044], [0.0139, -0.0052], [0.014, -0.0053],
  [0.0139, -0.0047], [0.0139, -0.0042], [0.0142, -0.0041], [0.0123, -0.0043], [0.0122, -0.0047], [0.0125, -0.0041], [0.0127, -0.0039], [0.0129, -0.0038],
  [0.0131, -0.0036], [0.0133, -0.0034], [0.0135, -0.0037], [0.0137, -0.0036], [0.014, -0.0035], [0.0143, -0.0037], [0.0125, -0.0033], [0.0127, -0.003],
  [0.0129, -0.0028], [0.0131, -0.0027], [0.0133, -0.0029], [0.0135, -0.003], [0.0137, -0.0032], [0.014, -0.0032], [0.0143, -0.0031], [0.0127, -0.0026],
  [0.0129, -0.0024], [0.0131, -0.0022], [0.0133, -0.0024], [0.0136, -0.0026], [0.0138, -0.0028], [0.0141, -0.0027], [0.0133, -0.002], [0.0135, -0.0021],
  [0.0137, -0.0023], [0.014, -0.0023], [0.0142, -0.0023], [0.0133, -0.0016], [0.0135, -0.0017], [0.0138, -0.0019], [0.014, -0.0019], [0.0142, -0.0019],
  [0.0144, -0.002], [0.0135, -0.0013], [0.0137, -0.0014], [0.0139, -0.0015], [0.0142, -0.0015], [0.0144, -0.0016], [0.0137, -0.0011], [0.014, -0.0012],
  [0.0143, -0.0012], [0.0139, -0.0009], [0.0142, -0.0009], [0.0144, -0.0008], [0.0139, -0.0006], [0.0141, -0.0005], [0.0144, -0.0005], [0.014, -0.0003],
  [0.0142, -0.0002], [0.0145, -0.0003], [0.0142, 0.0001], [0.0144, 0.0004], [0.0142, 0.0007], [0.0148, -0.0013], [0.0152, -0.0014], [0.0155, -0.0012],
  [0.0162, -0.0012], [0.0152, -0.0006], [0.0155, -0.0007], [0.015, -0.0005], [0.0158, -0.0005], [0.016, -0.0004], [0.0165, -0.0005], [0.0172, -0.0005],
  [0.018, -0.0004], [0.0183, -0.0006], [0.0185, -0.0004], [0.0182, -0.0017], [0.0194, -0.0008], [0.0214, -0.0008], [0.0195, -0.0002], [0.02, -0.0002],
  [0.0208, -0.0002], [0.0215, -0.0001], [0.0222, -0.0002], [0.0237, -0.0001],
  [0.0162, 0.0029], [0.0163, 0.0028], [0.0165, 0.003], [0.0172, 0.0031], [0.0181, 0.0029], [0.0185, 0.003], [0.0189, 0.0035], [0.0191, 0.0033],
  [0.0193, 0.0032], [0.0194, 0.0031], [0.0191, 0.0029], [0.0183, 0.0027], [0.0186, 0.0026], [0.0188, 0.0028], [0.019, 0.0026], [0.0195, 0.0026],
  [0.0162, 0.0023], [0.0165, 0.0023], [0.0168, 0.0024], [0.017, 0.0022], [0.0162, 0.0019], [0.0165, 0.002], [0.0172, 0.0019], [0.0149, 0.0018],
  [0.0142, 0.0015], [0.0143, 0.0014], [0.0147, 0.0012], [0.0158, 0.0014], [0.016, 0.0013], [0.0163, 0.0015], [0.0166, 0.0012], [0.0172, 0.0015],
  [0.0176, 0.0014], [0.018, 0.0012], [0.0187, 0.0012], [0.0193, 0.0013], [0.02, 0.0016], [0.0205, 0.0016], [0.0212, 0.0016], [0.0218, 0.002],
  [0.0227, 0.0021], [0.0233, 0.0019], [0.0238, 0.002], [0.0247, 0.002], [0.0222, 0.0016], [0.0228, 0.0017], [0.0236, 0.0016], [0.0258, 0.0016],
  [0.0225, 0.0012], [0.023, 0.0012], [0.0235, 0.0011], [0.0239, 0.0013], [0.0245, 0.0013], [0.0252, 0.0014], [0.0248, 0.0011], [0.0225, 0.001],
  [0.0232, 0.0009], [0.024, 0.0009], [0.0248, 0.0008], [0.0254, 0.0008], [0.026, 0.0008], [0.0262, 0.0006], [0.0268, 0.0009], [0.027, 0.0006],
  [0.0273, 0.0006], [0.0258, 0.0006], [0.0256, 0.0003], [0.0262, 0.0004], [0.0275, 0.0001], [0.0283, 0.0003], [0.0285, 0.0002], [0.0288, 0.0002],
  [0.0295, 0.0001], [0.0275, -0.0006], [0.0313, -0.0009], [0.0351, 0.0002], [0.0361, 0.0001], [0.0357, -0.0002], [0.0385, 0.0003],
  [0.0148, -0.0005], [0.0143, -0.0013], [0.0146, -0.0009], [0.0147, -0.0006],
  [0.0147, 0], [0.015, -0.0001], [0.0153, -0.0002], [0.0156, -0.0003], [0.0159, -0.0002], [0.0162, -0.0003], [0.0165, -0.0003], [0.0168, -0.0003], [0.0171, -0.0004],
  [0.0174, -0.0003], [0.0177, -0.0004], [0.018, -0.0003], [0.0183, -0.0004], [0.0186, -0.0005], [0.0188, -0.0003], [0.0145, 0.001], [0.015, 0.0011], [0.0155, 0.0011],
  [0.0158, 0.0012], [0.0163, 0.0011], [0.0168, 0.0011], [0.0172, 0.0012], [0.0177, 0.001], [0.0182, 0.001], [0.0186, 0.0011], [0.019, 0.0011], [0.0195, 0.0012],
  [0.0198, 0.0014], [0.0203, 0.0015], [0.0217, 0.0016], [0.0219, 0.0012], [0.0222, 0.0012], [0.0226, 0.0008], [0.0252, 0.0003], [0.0246, 0.0002], [0.024, 0.0002],
  [0.0234, 0.0002], [0.0225, 0.0001], [0.022, 0.0001], [0.0205, 0.0001], [0.0198, 0], [0.0192, -0.0001], [0.0253, 0.0006], [0.0256, 0.0008], [0.0265, 0.0007],
  [0.0134, -0.0018], [0.0136, -0.0015], [0.0138, -0.0012], [0.014, -0.0008], [0.0141, -0.0012], [0.0142, -0.0017], [0.0141, -0.0021], [0.0139, -0.0025], [0.0137, -0.0027],
  [0.0134, -0.0026], [0.0132, -0.0025], [0.013, -0.003], [0.0132, -0.0032], [0.0134, -0.0032], [0.0136, -0.0034], [0.0138, -0.0034], [0.0128, -0.0035], [0.013, -0.0034],
  [0.0124, -0.0031], [0.0126, -0.0036], [0.0128, -0.0031], [0.0141, -0.0029], [0.0142, -0.0033], [0.0141, -0.0037],
];

const COLOR = "#016fd6";
const AXIS = "#606060";
const LABEL = "#555555";
const SERIF = '"Liberation Serif", serif';

const fix = (d: number) => (v: number) => v.toFixed(d).replace("-", "\u2212");

interface Panel {
  xName: string; left: number; top: number; width: number; height: number;
  xMin: number; xMax: number; yMin: number; yMax: number;
  xTicks: number[]; yTicks: number[];
  xFmt: (v: number) => string; yFmt: (v: number) => string;
  dense: Row[]; sparse: Pt[];
  xTitle: [number, number]; yTitle: [number, number]; titleSize: number;
}

const panels: Panel[] = [
  { xName: "SMA_M2", left: 124, top: 13, width: 403, height: 337, xMin: -0.0177, xMax: 0.379, yMin: -0.0831, yMax: 0.0897,
    xTicks: smaXTicks, yTicks: smaYTicks, xFmt: fix(2), yFmt: fix(2), dense: smaDense, sparse: smaSparse, xTitle: [333, 395], yTitle: [39, 188], titleSize: 25.5 },
  { xName: "SMI_M2", left: 644, top: 13, width: 401, height: 336, xMin: 0.092, xMax: 0.545, yMin: -0.03473, yMax: 0.02636,
    xTicks: smiXTicks, yTicks: smiYTicks, xFmt: fix(1), yFmt: (v) => smiYLabels[smiYTicks.indexOf(v)] ?? "", dense: smiDense, sparse: smiSparse, xTitle: [862, 394], yTitle: [568, 198], titleSize: 25.5 },
  { xName: "TXx_M2", left: 120, top: 437, width: 421, height: 350, xMin: 15.35, xMax: 38.65, yMin: -0.076, yMax: 0.0853,
    xTicks: txxXTicks, yTicks: txxYTicks, xFmt: fix(0), yFmt: fix(2), dense: txxDense, sparse: txxSparse, xTitle: [344, 829], yTitle: [38, 614], titleSize: 26.8 },
  { xName: "TNx_M2", left: 674, top: 426, width: 422, height: 357, xMin: 2.4, xMax: 23.24, yMin: -0.0218, yMax: 0.02096,
    xTicks: tnxXTicks, yTicks: tnxYTicks, xFmt: fix(1), yFmt: fix(3), dense: tnxDense, sparse: tnxSparse, xTitle: [902, 828], yTitle: [578, 589], titleSize: 27 },
  { xName: "SWDI_M2", left: 424, top: 867, width: 414, height: 352, xMin: 0.00434, xMax: 0.03872, yMin: -0.0102, yMax: 0.00405,
    xTicks: swdiXTicks, yTicks: swdiYTicks, xFmt: fix(3), yFmt: fix(3), dense: swdiDense, sparse: swdiSparse, xTitle: [651, 1261], yTitle: [322, 1043], titleSize: 28 },
];

export default function App() {
  const ref = useRef<HTMLDivElement>(null);
  useEffect(() => {
    const chart = echarts.init(ref.current!, undefined, { renderer: "svg" });
    const axisCommon = {
      splitLine: { show: false },
      axisLine: { show: true, onZero: false, lineStyle: { color: AXIS, width: 1.3 } },
    };
    chart.setOption({
      animation: false,
      backgroundColor: "#ffffff",
      grid: panels.map((p) => ({ left: p.left, top: p.top, width: p.width, height: p.height, containLabel: false })),
      xAxis: panels.map((p, i) => ({
        ...axisCommon, type: "value", gridIndex: i, min: p.xMin, max: p.xMax,
        axisTick: { show: true, length: 4, customValues: p.xTicks, lineStyle: { color: AXIS, width: 1 } },
        axisLabel: {
          customValues: p.xTicks, formatter: p.xFmt, color: LABEL, fontSize: 13.5, margin: 6,
          fontFamily: '"DejaVu Sans", sans-serif', hideOverlap: false, showMinLabel: true, showMaxLabel: true,
        },
      })),
      yAxis: panels.map((p, i) => ({
        ...axisCommon, type: "value", gridIndex: i, min: p.yMin, max: p.yMax,
        axisTick: { show: true, length: 4, customValues: p.yTicks, lineStyle: { color: AXIS, width: 1 } },
        axisLabel: {
          customValues: p.yTicks, formatter: p.yFmt, color: LABEL, fontSize: 13.5, margin: 6,
          fontFamily: '"DejaVu Sans", sans-serif', hideOverlap: false, showMinLabel: true, showMaxLabel: true,
        },
      })),
      series: panels.flatMap((p, i) => [
        {
          type: "scatter", name: p.xName + " dense", xAxisIndex: i, yAxisIndex: i, symbolSize: 12, silent: true, z: 2,
          itemStyle: { color: COLOR, opacity: 1 },
          data: p.dense.flatMap(([x, ys]) => ys.map((y) => [x, y])),
        },
        {
          type: "scatter", name: p.xName, xAxisIndex: i, yAxisIndex: i, symbolSize: 6.2, silent: true, z: 2,
          itemStyle: { color: COLOR, opacity: 1 },
          data: p.sparse,
        },
        {
          type: "line", name: p.xName + " zero", xAxisIndex: i, yAxisIndex: i, symbol: "none", silent: true, z: 3,
          lineStyle: { color: "#808080", width: 3.2, type: [18, 7.5] },
          data: [[p.xMin, 0], [p.xMax, 0]],
        },
      ]),
      graphic: panels.flatMap((p) => [
        {
          type: "text", x: p.xTitle[0], y: p.xTitle[1],
          style: { text: p.xName, align: "center", verticalAlign: "middle", fill: "#111111", font: `${p.titleSize}px ${SERIF}` },
        },
        {
          type: "text", x: p.yTitle[0], y: p.yTitle[1], rotation: Math.PI / 2,
          style: { text: `${p.xName}\nSHAP value`, align: "center", verticalAlign: "middle", fill: "#111111", font: `${p.titleSize}px ${SERIF}`, lineHeight: 31 },
        },
      ]),
    });
    return () => chart.dispose();
  }, []);
  return <div ref={ref} style={{ position: "absolute", left: 0, top: 0, width: 1096, height: 1277 }} />;
}
